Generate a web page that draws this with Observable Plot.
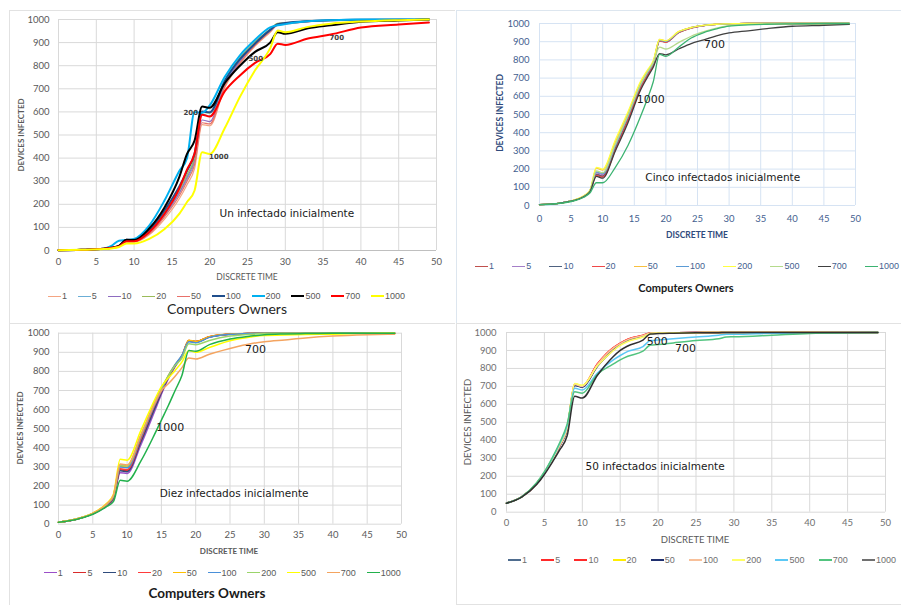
<!DOCTYPE html>
<html><head><meta charset="utf-8">
<script src="https://cdn.jsdelivr.net/npm/d3@7"></script>
<script src="https://cdn.jsdelivr.net/npm/@observablehq/plot@0.6"></script>
<style>
body{margin:0;background:#fff;}
#root{position:relative;width:901px;height:605px;overflow:hidden;background:#fff;}
.panel{position:absolute;}
.frame{position:absolute;border-style:solid;border-width:0;border-color:#e2e2e2;}
.legend{position:absolute;display:flex;justify-content:space-between;align-items:center;white-space:nowrap;font-family:"Liberation Sans",sans-serif;font-size:9px;transform:translateY(-50%);}
.legend .item{display:flex;align-items:center;}
.legend .sw{display:inline-block;width:13px;height:0;margin-right:1px;}
.t{position:absolute;white-space:nowrap;transform:translate(-50%,-50%);font-family:Lato,sans-serif;}
.yt{position:absolute;white-space:nowrap;transform:translate(-50%,-50%) rotate(-90deg);font-family:Lato,sans-serif;}
</style></head><body><div id="root"></div>
<script>
// ---------- shared ----------
const owners = [1,5,10,20,50,100,200,500,700,1000];
const xTicks = [0,5,10,15,20,25,30,35,40,45,50];
const yTicks = [0,100,200,300,400,500,600,700,800,900,1000];

// ---------- Panel 1: Un infectado inicialmente ----------
const unTimes = [0,3,6,7,8,9,10,12,14,16,17,18,19,20,22,24,26,28,29,30,33,36,40,45,49];
const unValues = [
  [1,3,8,12,18,36,36,68,135,225,285,355,545,540,705,808,885,945,975,980,990,995,998,1000,1000],
  [1,3,8,12,19,40,40,76,150,248,310,385,590,582,725,822,895,952,978,982,991,996,999,1000,1000],
  [1,3,8,12,19,42,42,78,155,252,318,392,565,558,718,818,892,950,978,982,991,996,999,1000,1000],
  [1,3,8,12,20,43,43,82,162,262,328,402,598,595,738,835,904,958,983,986,993,997,999,1000,1000],
  [1,3,8,12,18,38,38,72,145,238,300,372,553,548,712,812,888,950,978,982,991,996,999,1000,1000],
  [1,3,8,12,20,46,46,86,172,278,345,420,602,598,735,828,896,955,980,985,993,997,999,1000,1000],
  [1,3,8,20,42,45,50,108,215,345,400,600,596,628,752,845,912,966,975,980,992,997,1000,1000,1000],
  [1,3,8,12,20,46,45,95,185,320,418,476,623,618,725,800,860,900,945,938,962,975,990,996,1000],
  [1,3,8,12,18,40,40,80,158,270,350,420,588,580,690,758,812,850,895,890,918,935,965,978,987],
  [1,3,6,9,15,30,30,50,92,160,210,260,425,418,530,665,780,875,952,945,968,982,991,997,1000]
];
const unColors = ["#F4A582","#6BAED6","#8E6CC0","#9BBB59","#E8706A","#1F4E8C","#00B0F0","#000000","#FF0000","#FFFF00"];
const unWidths = [1.2,1.2,1.2,1.2,1.2,2,2,2,2,2];
const unNotes = [
  {t:17.5, v:597, label:"200"},
  {t:21.2, v:407, label:"1000"},
  {t:26.1, v:831, label:"500"},
  {t:36.8, v:922, label:"700"}
];
const unCaption = [{t:30.2, v:159, label:"Un infectado inicialmente"}];

// ---------- Panel 2: Cinco infectados inicialmente ----------
const cincoTimes = [0,3,5,7,8,9,10,12,14,16,17,18,19,20,22,24,26,28,30,33,36,40,45,49];
const cincoValues = [
  [5,12,25,50,80,172,162,315,475,650,715,778,908,902,952,977,989,995,998,1000,1000,1000,1000,1000],
  [5,12,25,51,81,180,170,325,485,660,722,782,910,903,953,977,989,995,998,1000,1000,1000,1000,1000],
  [5,12,25,50,80,170,160,312,472,648,712,775,905,898,950,975,988,995,998,1000,1000,1000,1000,1000],
  [5,12,25,50,79,165,156,305,468,645,710,772,903,897,949,975,988,995,998,1000,1000,1000,1000,1000],
  [5,12,26,52,83,205,195,350,505,675,735,790,912,905,955,978,990,996,998,1000,1000,1000,1000,1000],
  [5,12,25,51,81,185,175,330,490,662,725,783,908,902,952,977,989,995,998,1000,1000,1000,1000,1000],
  [5,12,26,53,85,210,200,360,515,682,740,795,912,905,955,978,990,996,998,1000,1000,1000,1000,1000],
  [5,12,25,51,82,190,180,335,495,665,728,785,870,860,895,930,955,975,988,995,998,1000,1000,1000],
  [5,12,24,48,76,160,150,300,455,635,700,760,835,828,860,890,910,932,948,960,972,985,990,995],
  [5,11,22,45,70,125,125,210,330,490,580,680,830,820,870,920,950,970,985,992,996,998,1000,1000]
];
const cincoColors = ["#C0504D","#A57FC8","#4F6280","#F04848","#F8C040","#5B9BD5","#FFFF40","#B5DA8C","#404040","#3CB371"];
const cincoWidths = [1.3,1.3,1.3,1.3,1.3,1.3,1.3,1.3,1.3,1.3];
const cincoNotes = [
  {t:27.7, v:885, label:"700"},
  {t:17.6, v:582, label:"1000"}
];
const cincoCaption = [{t:29, v:154, label:"Cinco infectados inicialmente"}];

// ---------- Panel 3: Diez infectados inicialmente ----------
const diezTimes = [0,3,5,7,8,9,10,12,14,15,16,17,18,19,20,22,25,28,30,33,36,40,45,49];
const diezValues = [
  [10,30,54,95,130,270,265,415,590,680,760,825,878,960,955,980,995,999,1000,1000,1000,1000,1000,1000],
  [10,30,55,100,138,285,280,435,610,692,770,830,880,962,956,981,995,999,1000,1000,1000,1000,1000,1000],
  [10,30,55,100,136,280,275,430,605,690,768,830,880,960,955,980,995,999,1000,1000,1000,1000,1000,1000],
  [10,30,55,101,140,290,285,445,620,698,772,832,882,962,956,981,995,999,1000,1000,1000,1000,1000,1000],
  [10,31,57,105,150,305,300,465,635,710,778,835,883,963,957,982,996,999,1000,1000,1000,1000,1000,1000],
  [10,31,56,103,145,300,295,455,625,700,775,835,885,955,950,978,994,999,1000,1000,1000,1000,1000,1000],
  [10,31,57,105,148,310,305,465,635,712,775,830,870,945,940,962,985,995,998,1000,1000,1000,1000,1000],
  [10,31,58,108,155,340,335,490,650,720,765,805,850,910,900,925,960,980,988,990,993,995,998,1000],
  [10,31,57,106,152,315,310,465,630,700,735,775,820,870,865,890,920,945,955,965,975,985,992,995],
  [10,29,52,92,118,230,225,330,470,545,620,700,780,910,905,940,970,985,992,996,998,1000,1000,1000]
];
const diezColors = ["#9B4FC8","#D92B2B","#2F4B7C","#FF3B3B","#FFC000","#4A90D9","#9BD46A","#FFFF00","#F4A460","#22B14C"];
const diezWidths = [1.5,1.5,1.5,1.5,1.5,1.5,1.5,1.5,1.5,1.5];
const diezNotes = [
  {t:28.7, v:913, label:"700"},
  {t:16.3, v:505, label:"1000"}
];
const diezCaption = [{t:25.6, v:162, label:"Diez infectados inicialmente"}];

// ---------- Panel 4: 50 infectados inicialmente ----------
const cincuentaTimes = [0,2,4,5,6,7,8,9,10,12,14,15,16,18,19,20,22,25,28,29,30,35,40,49];
const cincuentaValues = [
  [50,85,160,218,288,368,462,708,698,818,905,935,958,982,996,998,999,1000,1000,1000,1000,1000,1000,1000],
  [50,85,160,218,288,368,462,712,702,825,912,940,962,984,997,998,999,1000,1000,1000,1000,1000,1000,1000],
  [50,85,160,218,288,368,462,712,702,826,913,941,963,985,997,998,999,1000,1000,1000,1000,1000,1000,1000],
  [50,85,162,220,292,375,470,715,705,815,898,930,952,976,995,997,998,999,1000,1000,1000,1000,1000,1000],
  [50,85,160,217,287,366,460,705,695,812,900,932,955,980,996,998,999,1000,1000,1000,1000,1000,1000,1000],
  [50,85,160,218,288,368,462,710,700,822,910,938,960,983,997,998,999,1000,1000,1000,1000,1000,1000,1000],
  [50,85,162,220,292,376,472,716,706,815,897,928,950,975,994,997,998,999,1000,1000,1000,1000,1000,1000],
  [50,85,162,222,295,380,480,690,680,775,845,872,895,922,955,958,965,975,985,990,990,996,998,1000],
  [50,86,165,225,300,385,490,670,662,768,822,848,868,896,930,933,942,955,965,975,976,985,995,1000],
  [50,84,155,210,275,345,425,645,635,762,862,900,925,958,992,994,996,998,999,1000,1000,1000,1000,1000]
];
const cincuentaColors = ["#4F6D8F","#FF2A2A","#FF2A2A","#FFEE00","#1F2F6F","#F8C09A","#FFFF66","#5BC8F5","#52C47F","#303030"];
const cincuentaLegendColors = ["#4F6D8F","#FF2A2A","#FF2A2A","#FFEE00","#1F2F6F","#F8C09A","#FFFF66","#5BC8F5","#52C47F","#707070"];
const cincuentaWidths = [1.5,1.5,1.5,1.5,1.5,1.5,1.5,1.5,1.5,1.5];
const cincuentaNotes = [
  {t:19.9, v:952, label:"500"},
  {t:23.6, v:909, label:"700"}
];
const cincuentaCaption = [{t:19.6, v:254, label:"50 infectados inicialmente"}];

// ---------- builder ----------
const root = document.getElementById("root");

function addEl(cls, css, html){
  const d = document.createElement("div");
  d.className = cls;
  Object.assign(d.style, css);
  if (html !== undefined) d.innerHTML = html;
  root.appendChild(d);
  return d;
}

function makePanel(cfg){
  const marks = [
    Plot.gridX(xTicks, {stroke: cfg.grid, strokeOpacity: 1}),
    Plot.gridY(yTicks, {stroke: cfg.grid, strokeOpacity: 1}),
    Plot.axisX(xTicks, {tickSize: 0, tickPadding: cfg.xPad, color: cfg.tick, label: null, tickFormat: d => String(d)}),
    Plot.axisY(yTicks, {tickSize: 0, tickPadding: cfg.yPad, color: cfg.tick, label: null, tickFormat: d => String(d)})
  ];
  if (cfg.baseline) marks.push(Plot.ruleY([0], {stroke: cfg.baseline}));
  owners.forEach((o, i) => {
    const rows = cfg.times.map((t, j) => ({owner: o, t, v: cfg.values[i][j]}));
    marks.push(Plot.line(rows, {x: "t", y: "v", stroke: cfg.colors[i], strokeWidth: cfg.widths[i], curve: "monotone-x"}));
  });
  marks.push(Plot.text(cfg.notes, {x: "t", y: "v", text: "label", fontSize: cfg.noteSize, fontFamily: "DejaVu Sans", fontWeight: cfg.noteWeight || "normal", fill: cfg.noteColor}));
  marks.push(Plot.text(cfg.caption, {x: "t", y: "v", text: "label", fontSize: 10.5, fontFamily: "DejaVu Sans", fill: "#1a1a1a"}));
  const svg = Plot.plot({
    width: cfg.width, height: cfg.height,
    marginLeft: cfg.m[0], marginRight: cfg.m[1], marginTop: cfg.m[2], marginBottom: cfg.m[3],
    x: {domain: [0, 50]},
    y: {domain: [0, 1000]},
    style: {fontFamily: "Lato, sans-serif", fontSize: cfg.tickSize + "px", background: "transparent", overflow: "visible"},
    marks
  });
  const p = addEl("panel", {left: cfg.left + "px", top: cfg.top + "px"});
  p.appendChild(svg);

  // legend
  const lg = addEl("legend", {left: cfg.legend[0] + "px", top: cfg.legend[1] + "px", width: cfg.legend[2] + "px", color: cfg.legendText});
  owners.forEach((o, i) => {
    const it = document.createElement("span");
    it.className = "item";
    const c = (cfg.legendColors || cfg.colors)[i];
    it.innerHTML = `<span class="sw" style="border-top:${cfg.legendW[i]}px solid ${c}"></span><span>${o}</span>`;
    lg.appendChild(it);
  });
}

// frames
addEl("frame", {left: "9px", top: "10px", width: "445px", height: "312px", borderLeftWidth: "1px", borderTopWidth: "1px"});
addEl("frame", {left: "456px", top: "10px", width: "450px", height: "312px", borderLeftWidth: "1px", borderTopWidth: "1px", borderColor: "#dde6ef"});
addEl("frame", {left: "9px", top: "323px", width: "445px", height: "290px", borderLeftWidth: "1px", borderTopWidth: "1px"});
addEl("frame", {left: "456px", top: "323px", width: "450px", height: "280px", borderLeftWidth: "1px", borderTopWidth: "1px", borderBottomWidth: "1px"});

makePanel({
  left: 0, top: 0, width: 450, height: 320, m: [58, 14, 19, 70],
  times: unTimes, values: unValues, colors: unColors, widths: unWidths,
  grid: "#d9d9d9", tick: "#595959", tickSize: 9.5, xPad: 8, yPad: 9, baseline: "#bfbfbf",
  notes: unNotes, noteSize: 7, noteWeight: "bold", noteColor: "#404040", caption: unCaption,
  legend: [48, 296, 357], legendText: "#595959", legendW: [1.3,1.3,1.3,1.3,1.3,2.2,2.2,2.2,2.2,2.2]
});
makePanel({
  left: 450, top: 0, width: 451, height: 320, m: [89, 46, 23, 115],
  times: cincoTimes, values: cincoValues, colors: cincoColors, widths: cincoWidths,
  grid: "#d6e3f3", tick: "#44618f", tickSize: 9.5, xPad: 10, yPad: 10,
  notes: cincoNotes, noteSize: 11, noteColor: "#1a1a1a", caption: cincoCaption,
  legend: [475, 266, 424], legendText: "#44618f", legendW: [1.5,1.5,1.5,1.5,1.5,1.5,1.5,1.5,1.5,1.5]
});
makePanel({
  left: 0, top: 320, width: 450, height: 285, m: [58, 49, 12.7, 81.3],
  times: diezTimes, values: diezValues, colors: diezColors, widths: diezWidths,
  grid: "#d9d9d9", tick: "#595959", tickSize: 9.5, xPad: 7, yPad: 9,
  notes: diezNotes, noteSize: 11, noteColor: "#1a1a1a", caption: diezCaption,
  legend: [43.7, 572.7, 357], legendText: "#595959", legendW: [1.8,1.8,1.8,1.8,1.8,1.8,1.8,1.8,1.8,1.8]
});
makePanel({
  left: 450, top: 320, width: 451, height: 285, m: [56, 16, 12, 93.3],
  times: cincuentaTimes, values: cincuentaValues, colors: cincuentaColors, widths: cincuentaWidths,
  grid: "#d9d9d9", tick: "#6f6f6f", tickSize: 9.5, xPad: 7, yPad: 10,
  notes: cincuentaNotes, noteSize: 11, noteColor: "#1a1a1a", caption: cincuentaCaption,
  legend: [508, 560, 388], legendText: "#6f6f6f", legendColors: cincuentaLegendColors, legendW: [2.5,2.5,2.5,2.5,2.5,2.5,2.5,2.5,2.5,2.5]
});

// axis titles and legend titles
addEl("yt", {left: "21px", top: "134.5px", fontSize: "8px", fontWeight: "700", color: "#595959"}, "DEVICES INFECTED");
addEl("t", {left: "247px", top: "277px", fontSize: "8.5px", color: "#595959"}, "DISCRETE TIME");
addEl("t", {left: "227px", top: "308px", fontSize: "14px", color: "#262626"}, "Computers Owners");

addEl("yt", {left: "500px", top: "113px", fontSize: "8.5px", fontWeight: "700", color: "#2f4b7c"}, "DEVICES INFECTED");
addEl("t", {left: "697px", top: "235px", fontSize: "8.5px", fontWeight: "700", color: "#2f4b7c"}, "DISCRETE TIME");
addEl("t", {left: "686px", top: "287px", fontSize: "11px", fontWeight: "700", color: "#1a1a1a"}, "Computers Owners");

addEl("yt", {left: "20px", top: "427.5px", fontSize: "8px", fontWeight: "700", color: "#595959"}, "DEVICES INFECTED");
addEl("t", {left: "229px", top: "550.7px", fontSize: "8px", fontWeight: "700", color: "#595959"}, "DISCRETE TIME");
addEl("t", {left: "207px", top: "593px", fontSize: "13.5px", fontWeight: "700", color: "#1a1a1a"}, "Computers Owners");

addEl("yt", {left: "467px", top: "421.7px", fontSize: "9.5px", color: "#595959"}, "DEVICES INFECTED");
addEl("t", {left: "695px", top: "539px", fontSize: "9.5px", color: "#595959"}, "DISCRETE TIME");
</script></body></html>
